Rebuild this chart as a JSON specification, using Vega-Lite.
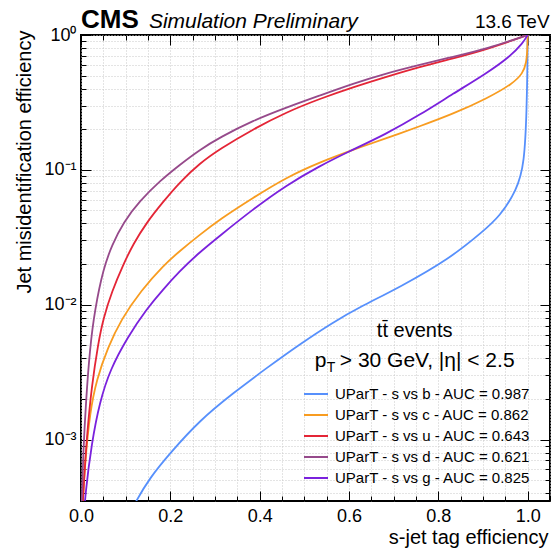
{
  "$schema": "https://vega.github.io/schema/vega-lite/v6.json",
  "width": 469,
  "height": 466,
  "autosize": {"type": "none"},
  "padding": {"left": 81, "top": 35, "right": 8, "bottom": 52},
  "background": "white",
  "config": {
    "font": "Liberation Sans",
    "view": {"stroke": "black", "strokeWidth": 2},
    "axis": {"domain": false, "labelFlush": false, "labelColor": "black", "titleColor": "black", "tickColor": "black", "tickWidth": 1, "labelFont": "Liberation Sans", "titleFont": "Liberation Sans", "titleFontWeight": "normal"},
    "legend": {"orient": "none", "legendX": 222, "legendY": 346, "symbolType": "stroke", "symbolSize": 576, "symbolStrokeWidth": 2, "labelFontSize": 15, "labelOffset": 6, "rowPadding": 0, "padding": 0, "labelColor": "black", "labelLimit": 400}
  },
  "data": {"values": [
    {"c": "UParT - s vs b - AUC = 0.987", "x": 0.11, "y": 0.00028},
    {"c": "UParT - s vs b - AUC = 0.987", "x": 0.121, "y": 0.00034},
    {"c": "UParT - s vs b - AUC = 0.987", "x": 0.154, "y": 0.00052},
    {"c": "UParT - s vs b - AUC = 0.987", "x": 0.199, "y": 0.00079},
    {"c": "UParT - s vs b - AUC = 0.987", "x": 0.266, "y": 0.00139},
    {"c": "UParT - s vs b - AUC = 0.987", "x": 0.34, "y": 0.0022},
    {"c": "UParT - s vs b - AUC = 0.987", "x": 0.416, "y": 0.0034},
    {"c": "UParT - s vs b - AUC = 0.987", "x": 0.49, "y": 0.0051},
    {"c": "UParT - s vs b - AUC = 0.987", "x": 0.564, "y": 0.0074},
    {"c": "UParT - s vs b - AUC = 0.987", "x": 0.624, "y": 0.0096},
    {"c": "UParT - s vs b - AUC = 0.987", "x": 0.714, "y": 0.0135},
    {"c": "UParT - s vs b - AUC = 0.987", "x": 0.826, "y": 0.022},
    {"c": "UParT - s vs b - AUC = 0.987", "x": 0.9, "y": 0.035},
    {"c": "UParT - s vs b - AUC = 0.987", "x": 0.937, "y": 0.045},
    {"c": "UParT - s vs b - AUC = 0.987", "x": 0.975, "y": 0.07},
    {"c": "UParT - s vs b - AUC = 0.987", "x": 0.993, "y": 0.11},
    {"c": "UParT - s vs b - AUC = 0.987", "x": 0.998, "y": 0.3},
    {"c": "UParT - s vs b - AUC = 0.987", "x": 0.9995, "y": 0.6},
    {"c": "UParT - s vs b - AUC = 0.987", "x": 1.0, "y": 1.0},

    {"c": "UParT - s vs c - AUC = 0.862", "x": 0.002, "y": 0.00024},
    {"c": "UParT - s vs c - AUC = 0.862", "x": 0.004, "y": 0.00035},
    {"c": "UParT - s vs c - AUC = 0.862", "x": 0.009, "y": 0.00067},
    {"c": "UParT - s vs c - AUC = 0.862", "x": 0.02, "y": 0.0016},
    {"c": "UParT - s vs c - AUC = 0.862", "x": 0.035, "y": 0.0028},
    {"c": "UParT - s vs c - AUC = 0.862", "x": 0.06, "y": 0.0048},
    {"c": "UParT - s vs c - AUC = 0.862", "x": 0.09, "y": 0.0078},
    {"c": "UParT - s vs c - AUC = 0.862", "x": 0.135, "y": 0.0128},
    {"c": "UParT - s vs c - AUC = 0.862", "x": 0.184, "y": 0.0195},
    {"c": "UParT - s vs c - AUC = 0.862", "x": 0.221, "y": 0.025},
    {"c": "UParT - s vs c - AUC = 0.862", "x": 0.266, "y": 0.033},
    {"c": "UParT - s vs c - AUC = 0.862", "x": 0.311, "y": 0.043},
    {"c": "UParT - s vs c - AUC = 0.862", "x": 0.385, "y": 0.062},
    {"c": "UParT - s vs c - AUC = 0.862", "x": 0.46, "y": 0.088},
    {"c": "UParT - s vs c - AUC = 0.862", "x": 0.535, "y": 0.114},
    {"c": "UParT - s vs c - AUC = 0.862", "x": 0.609, "y": 0.141},
    {"c": "UParT - s vs c - AUC = 0.862", "x": 0.684, "y": 0.172},
    {"c": "UParT - s vs c - AUC = 0.862", "x": 0.758, "y": 0.21},
    {"c": "UParT - s vs c - AUC = 0.862", "x": 0.833, "y": 0.26},
    {"c": "UParT - s vs c - AUC = 0.862", "x": 0.908, "y": 0.337},
    {"c": "UParT - s vs c - AUC = 0.862", "x": 0.967, "y": 0.436},
    {"c": "UParT - s vs c - AUC = 0.862", "x": 0.989, "y": 0.52},
    {"c": "UParT - s vs c - AUC = 0.862", "x": 0.997, "y": 0.615},
    {"c": "UParT - s vs c - AUC = 0.862", "x": 0.9995, "y": 0.8},
    {"c": "UParT - s vs c - AUC = 0.862", "x": 1.0, "y": 1.0},

    {"c": "UParT - s vs u - AUC = 0.643", "x": 0.002, "y": 0.00024},
    {"c": "UParT - s vs u - AUC = 0.643", "x": 0.004, "y": 0.00035},
    {"c": "UParT - s vs u - AUC = 0.643", "x": 0.013, "y": 0.00107},
    {"c": "UParT - s vs u - AUC = 0.643", "x": 0.024, "y": 0.0025},
    {"c": "UParT - s vs u - AUC = 0.643", "x": 0.039, "y": 0.0053},
    {"c": "UParT - s vs u - AUC = 0.643", "x": 0.05, "y": 0.0079},
    {"c": "UParT - s vs u - AUC = 0.643", "x": 0.069, "y": 0.0125},
    {"c": "UParT - s vs u - AUC = 0.643", "x": 0.095, "y": 0.02},
    {"c": "UParT - s vs u - AUC = 0.643", "x": 0.117, "y": 0.0282},
    {"c": "UParT - s vs u - AUC = 0.643", "x": 0.147, "y": 0.0407},
    {"c": "UParT - s vs u - AUC = 0.643", "x": 0.184, "y": 0.058},
    {"c": "UParT - s vs u - AUC = 0.643", "x": 0.221, "y": 0.081},
    {"c": "UParT - s vs u - AUC = 0.643", "x": 0.266, "y": 0.112},
    {"c": "UParT - s vs u - AUC = 0.643", "x": 0.311, "y": 0.143},
    {"c": "UParT - s vs u - AUC = 0.643", "x": 0.385, "y": 0.2},
    {"c": "UParT - s vs u - AUC = 0.643", "x": 0.46, "y": 0.268},
    {"c": "UParT - s vs u - AUC = 0.643", "x": 0.535, "y": 0.337},
    {"c": "UParT - s vs u - AUC = 0.643", "x": 0.609, "y": 0.41},
    {"c": "UParT - s vs u - AUC = 0.643", "x": 0.684, "y": 0.49},
    {"c": "UParT - s vs u - AUC = 0.643", "x": 0.758, "y": 0.58},
    {"c": "UParT - s vs u - AUC = 0.643", "x": 0.833, "y": 0.67},
    {"c": "UParT - s vs u - AUC = 0.643", "x": 0.908, "y": 0.78},
    {"c": "UParT - s vs u - AUC = 0.643", "x": 1.0, "y": 1.0},

    {"c": "UParT - s vs d - AUC = 0.621", "x": 0.0008, "y": 0.00024},
    {"c": "UParT - s vs d - AUC = 0.621", "x": 0.0015, "y": 0.00034},
    {"c": "UParT - s vs d - AUC = 0.621", "x": 0.005, "y": 0.0008},
    {"c": "UParT - s vs d - AUC = 0.621", "x": 0.011, "y": 0.0019},
    {"c": "UParT - s vs d - AUC = 0.621", "x": 0.02, "y": 0.0048},
    {"c": "UParT - s vs d - AUC = 0.621", "x": 0.031, "y": 0.0092},
    {"c": "UParT - s vs d - AUC = 0.621", "x": 0.05, "y": 0.0185},
    {"c": "UParT - s vs d - AUC = 0.621", "x": 0.069, "y": 0.0275},
    {"c": "UParT - s vs d - AUC = 0.621", "x": 0.095, "y": 0.041},
    {"c": "UParT - s vs d - AUC = 0.621", "x": 0.132, "y": 0.059},
    {"c": "UParT - s vs d - AUC = 0.621", "x": 0.177, "y": 0.083},
    {"c": "UParT - s vs d - AUC = 0.621", "x": 0.221, "y": 0.109},
    {"c": "UParT - s vs d - AUC = 0.621", "x": 0.266, "y": 0.141},
    {"c": "UParT - s vs d - AUC = 0.621", "x": 0.311, "y": 0.174},
    {"c": "UParT - s vs d - AUC = 0.621", "x": 0.385, "y": 0.232},
    {"c": "UParT - s vs d - AUC = 0.621", "x": 0.46, "y": 0.29},
    {"c": "UParT - s vs d - AUC = 0.621", "x": 0.535, "y": 0.356},
    {"c": "UParT - s vs d - AUC = 0.621", "x": 0.609, "y": 0.436},
    {"c": "UParT - s vs d - AUC = 0.621", "x": 0.684, "y": 0.52},
    {"c": "UParT - s vs d - AUC = 0.621", "x": 0.758, "y": 0.6},
    {"c": "UParT - s vs d - AUC = 0.621", "x": 0.833, "y": 0.69},
    {"c": "UParT - s vs d - AUC = 0.621", "x": 0.908, "y": 0.79},
    {"c": "UParT - s vs d - AUC = 0.621", "x": 1.0, "y": 1.0},

    {"c": "UParT - s vs g - AUC = 0.825", "x": 0.006, "y": 0.00025},
    {"c": "UParT - s vs g - AUC = 0.825", "x": 0.009, "y": 0.00038},
    {"c": "UParT - s vs g - AUC = 0.825", "x": 0.024, "y": 0.00095},
    {"c": "UParT - s vs g - AUC = 0.825", "x": 0.042, "y": 0.0019},
    {"c": "UParT - s vs g - AUC = 0.825", "x": 0.065, "y": 0.0033},
    {"c": "UParT - s vs g - AUC = 0.825", "x": 0.105, "y": 0.0058},
    {"c": "UParT - s vs g - AUC = 0.825", "x": 0.147, "y": 0.0093},
    {"c": "UParT - s vs g - AUC = 0.825", "x": 0.184, "y": 0.013},
    {"c": "UParT - s vs g - AUC = 0.825", "x": 0.221, "y": 0.0177},
    {"c": "UParT - s vs g - AUC = 0.825", "x": 0.259, "y": 0.0235},
    {"c": "UParT - s vs g - AUC = 0.825", "x": 0.311, "y": 0.0325},
    {"c": "UParT - s vs g - AUC = 0.825", "x": 0.385, "y": 0.051},
    {"c": "UParT - s vs g - AUC = 0.825", "x": 0.46, "y": 0.077},
    {"c": "UParT - s vs g - AUC = 0.825", "x": 0.535, "y": 0.107},
    {"c": "UParT - s vs g - AUC = 0.825", "x": 0.594, "y": 0.134},
    {"c": "UParT - s vs g - AUC = 0.825", "x": 0.684, "y": 0.185},
    {"c": "UParT - s vs g - AUC = 0.825", "x": 0.758, "y": 0.255},
    {"c": "UParT - s vs g - AUC = 0.825", "x": 0.833, "y": 0.367},
    {"c": "UParT - s vs g - AUC = 0.825", "x": 0.908, "y": 0.52},
    {"c": "UParT - s vs g - AUC = 0.825", "x": 0.96, "y": 0.69},
    {"c": "UParT - s vs g - AUC = 0.825", "x": 0.989, "y": 0.87},
    {"c": "UParT - s vs g - AUC = 0.825", "x": 1.0, "y": 1.0}
  ]},
  "resolve": {"axis": {"x": "independent", "y": "independent"}},
  "layer": [
    {
      "mark": {"type": "point", "opacity": 0},
      "encoding": {
        "x": {"field": "x", "type": "quantitative", "axis": {"orient": "bottom", "values": [0, 0.05, 0.1, 0.15, 0.2, 0.25, 0.3, 0.35, 0.4, 0.45, 0.5, 0.55, 0.6, 0.65, 0.7, 0.75, 0.8, 0.85, 0.9, 0.95, 1.0, 1.05], "labels": false, "ticks": true, "tickSize": -5, "grid": true, "gridColor": "#c8c8c8", "gridDash": [1, 2], "gridWidth": 1, "title": null}},
        "y": {"field": "y", "type": "quantitative", "axis": {"orient": "left", "values": [0.0004, 0.0005, 0.0006, 0.0007, 0.0008, 0.0009, 0.001, 0.002, 0.003, 0.004, 0.005, 0.006, 0.007, 0.008, 0.009, 0.01, 0.02, 0.03, 0.04, 0.05, 0.06, 0.07, 0.08, 0.09, 0.1, 0.2, 0.3, 0.4, 0.5, 0.6, 0.7, 0.8, 0.9, 1], "labels": false, "ticks": true, "tickSize": -5, "grid": true, "gridColor": "#c8c8c8", "gridDash": [1, 2], "gridWidth": 1, "title": null}}
      }
    },
    {
      "mark": {"type": "point", "opacity": 0},
      "encoding": {
        "x": {"field": "x", "type": "quantitative", "axis": {"orient": "bottom", "values": [0, 0.2, 0.4, 0.6, 0.8, 1.0], "labels": false, "ticks": true, "tickSize": -10, "grid": false, "title": null}},
        "y": {"field": "y", "type": "quantitative", "axis": {"orient": "left", "values": [0.001, 0.01, 0.1, 1], "labels": false, "ticks": true, "tickSize": -10, "grid": false, "title": null}}
      }
    },
    {
      "mark": {"type": "point", "opacity": 0},
      "encoding": {
        "x": {"field": "x", "type": "quantitative", "axis": {"orient": "top", "values": [0, 0.2, 0.4, 0.6, 0.8, 1.0], "labels": false, "ticks": true, "tickSize": -10, "grid": false, "title": null}},
        "y": {"field": "y", "type": "quantitative", "axis": {"orient": "right", "values": [0.001, 0.01, 0.1, 1], "labels": false, "ticks": true, "tickSize": -10, "grid": false, "title": null}}
      }
    },
    {
      "mark": {"type": "point", "opacity": 0},
      "encoding": {
        "x": {"field": "x", "type": "quantitative", "axis": {"orient": "top", "values": [0, 0.05, 0.1, 0.15, 0.2, 0.25, 0.3, 0.35, 0.4, 0.45, 0.5, 0.55, 0.6, 0.65, 0.7, 0.75, 0.8, 0.85, 0.9, 0.95, 1.0, 1.05], "labels": false, "ticks": true, "tickSize": -5, "grid": false, "title": null}},
        "y": {"field": "y", "type": "quantitative", "axis": {"orient": "right", "values": [0.0004, 0.0005, 0.0006, 0.0007, 0.0008, 0.0009, 0.002, 0.003, 0.004, 0.005, 0.006, 0.007, 0.008, 0.009, 0.02, 0.03, 0.04, 0.05, 0.06, 0.07, 0.08, 0.09, 0.2, 0.3, 0.4, 0.5, 0.6, 0.7, 0.8, 0.9], "labels": false, "ticks": true, "tickSize": -5, "grid": false, "title": null}}
      }
    },
    {
      "mark": {"type": "line", "clip": true, "strokeWidth": 1.8, "interpolate": "basis"},
      "encoding": {
        "x": {"field": "x", "type": "quantitative", "scale": {"domain": [0, 1.05], "nice": false, "zero": false},
          "axis": {"orient": "bottom", "values": [0, 0.2, 0.4, 0.6, 0.8, 1.0], "format": ".1f", "ticks": false, "grid": false, "labelFontSize": 18, "labelPadding": 6, "title": "s-jet tag efficiency", "titleFontSize": 20, "titleAlign": "right", "titleX": 467, "titleY": 42, "titleBaseline": "alphabetic"}},
        "y": {"field": "y", "type": "quantitative", "scale": {"type": "log", "domain": [0.00035, 1], "nice": false},
          "axis": {"orient": "left", "values": [0.001, 0.01, 0.1, 1], "labelExpr": "datum.value >= 0.99 ? '10⁰' : datum.value >= 0.099 ? '10⁻¹' : datum.value >= 0.0099 ? '10⁻²' : '10⁻³'", "ticks": false, "grid": false, "labelFontSize": 18, "labelPadding": 5, "labelBaseline": "middle", "title": "Jet misidentification efficiency", "titleFontSize": 20, "titleAngle": 270, "titleAlign": "right", "titleX": -51, "titleY": -5, "titleBaseline": "alphabetic"}},
        "color": {"field": "c", "type": "nominal", "title": null,
          "scale": {"domain": ["UParT - s vs b - AUC = 0.987", "UParT - s vs c - AUC = 0.862", "UParT - s vs u - AUC = 0.643", "UParT - s vs d - AUC = 0.621", "UParT - s vs g - AUC = 0.825"], "range": ["#5790fc", "#f89c20", "#e42536", "#964a8b", "#7a21dd"]}}
      }
    },
    {
      "data": {"values": [{}]},
      "mark": {"type": "text", "text": "CMS", "fontSize": 26, "fontWeight": "bold", "align": "left", "baseline": "alphabetic", "font": "Liberation Sans"},
      "encoding": {"x": {"datum": 0, "type": "quantitative", "axis": null}, "y": {"datum": 1.127, "type": "quantitative", "axis": null}}
    },
    {
      "data": {"values": [{}]},
      "mark": {"type": "text", "text": "Simulation Preliminary", "fontSize": 21, "fontStyle": "italic", "align": "left", "baseline": "alphabetic", "font": "Liberation Sans"},
      "encoding": {"x": {"datum": 0.152, "type": "quantitative", "axis": null}, "y": {"datum": 1.127, "type": "quantitative", "axis": null}}
    },
    {
      "data": {"values": [{}]},
      "mark": {"type": "text", "text": "13.6 TeV", "fontSize": 19, "align": "right", "baseline": "alphabetic", "font": "Liberation Sans"},
      "encoding": {"x": {"datum": 1.049, "type": "quantitative", "axis": null}, "y": {"datum": 1.127, "type": "quantitative", "axis": null}}
    },
    {
      "data": {"values": [{}]},
      "mark": {"type": "text", "text": "tt̄ events", "fontSize": 20, "align": "center", "baseline": "alphabetic", "font": "Liberation Sans"},
      "encoding": {"x": {"datum": 0.747, "type": "quantitative", "axis": null}, "y": {"datum": 0.00579, "type": "quantitative", "axis": null}}
    },
    {
      "data": {"values": [{}]},
      "mark": {"type": "text", "text": "p", "fontSize": 21, "align": "left", "baseline": "alphabetic", "font": "Liberation Sans"},
      "encoding": {"x": {"datum": 0.5235, "type": "quantitative", "axis": null}, "y": {"datum": 0.00347, "type": "quantitative", "axis": null}}
    },
    {
      "data": {"values": [{}]},
      "mark": {"type": "text", "text": "T", "fontSize": 14, "align": "left", "baseline": "alphabetic", "font": "Liberation Sans"},
      "encoding": {"x": {"datum": 0.5503, "type": "quantitative", "axis": null}, "y": {"datum": 0.00319, "type": "quantitative", "axis": null}}
    },
    {
      "data": {"values": [{}]},
      "mark": {"type": "text", "text": "> 30 GeV, |η| < 2.5", "fontSize": 21, "align": "left", "baseline": "alphabetic", "font": "Liberation Sans"},
      "encoding": {"x": {"datum": 0.5794, "type": "quantitative", "axis": null}, "y": {"datum": 0.00347, "type": "quantitative", "axis": null}}
    }
  ]
}
